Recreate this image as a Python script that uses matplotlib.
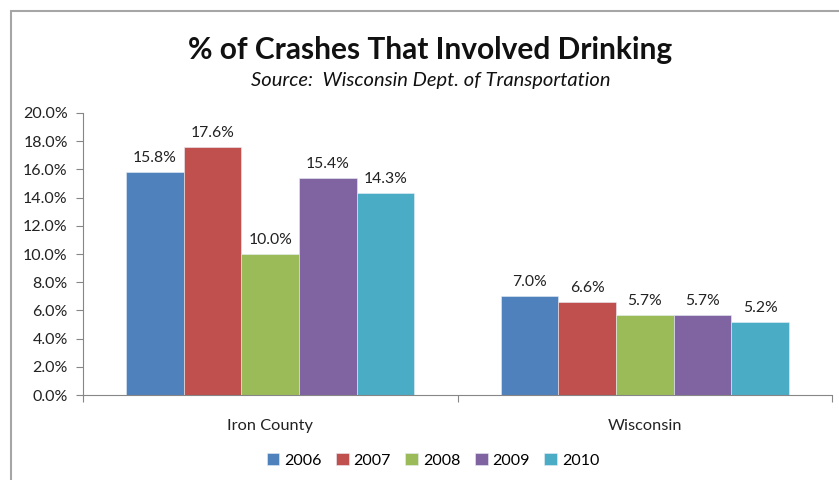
import matplotlib
matplotlib.use('Agg')
import matplotlib.pyplot as plt
import numpy as np
from matplotlib.patches import Rectangle

plt.rcParams['font.family'] = ['Lato', 'DejaVu Sans']

# data
categories = ['Iron County', 'Wisconsin']
years = ['2006', '2007', '2008', '2009', '2010']
values = {
    '2006': [15.8, 7.0],
    '2007': [17.6, 6.6],
    '2008': [10.0, 5.7],
    '2009': [15.4, 5.7],
    '2010': [14.3, 5.2],
}
colors = ['#4F81BD', '#C0504D', '#9BBB59', '#8064A2', '#4BACC6']
yticks = [0, 2, 4, 6, 8, 10, 12, 14, 16, 18, 20]

fig = plt.figure(figsize=(8.39, 4.8), dpi=100)
ax = fig.add_axes([0.0989, 0.177, 0.8928, 0.5876])

# chart frame
fig.patches.append(Rectangle((11 / 839, -0.1), 1.2, 1 - 11 / 480 + 0.1,
                             transform=fig.transFigure, fill=False,
                             edgecolor='#A6A6A6', linewidth=1.5))

x = np.arange(len(categories))
w = 0.154
for i, yr in enumerate(years):
    pos = x + (i - 2) * w
    bars = ax.bar(pos, values[yr], width=w, color=colors[i], label=yr,
                  edgecolor='#e8eef5', linewidth=0.4)
    for b, v in zip(bars, values[yr]):
        ax.annotate(f'{v:.1f}%', (b.get_x() + b.get_width() / 2, v),
                    xytext=(0, 5), textcoords='offset points',
                    ha='center', va='bottom', fontsize=11.3, color='#222222')

ax.set_xlim(-0.5, 1.5)
ax.set_ylim(0, 20)
ax.set_yticks(yticks)
ax.set_yticklabels([f'{t:.1f}%' for t in yticks], fontsize=11.5, color='#222222')

# category ticks on boundaries, labels in the middle
ax.set_xticks([-0.5, 0.5, 1.5])
ax.set_xticklabels([])
ax.set_xticks(x, minor=True)
ax.set_xticklabels(categories, minor=True, fontsize=11.8, color='#222222')
ax.tick_params(axis='x', which='minor', length=0, pad=17)
ax.tick_params(axis='x', which='major', length=5, color='#868686')
ax.tick_params(axis='y', length=5, color='#868686', pad=6)

for s in ['top', 'right']:
    ax.spines[s].set_visible(False)
for s in ['left', 'bottom']:
    ax.spines[s].set_color('#868686')

fig.text(0.513, 0.896, '% of Crashes That Involved Drinking', ha='center',
         va='center', fontsize=21.5, fontweight='bold', color='#111111')
fig.text(0.513, 0.833, 'Source:  Wisconsin Dept. of Transportation',
         ha='center', va='center', fontsize=14.5, style='italic', color='#111111')

fig.legend(loc='center', bbox_to_anchor=(0.516, 0.041), ncol=5, frameon=False,
           fontsize=11.5, handlelength=0.8, handleheight=0.8, handletextpad=0.3,
           columnspacing=0.9)

fig.savefig('out.png', dpi=100)
